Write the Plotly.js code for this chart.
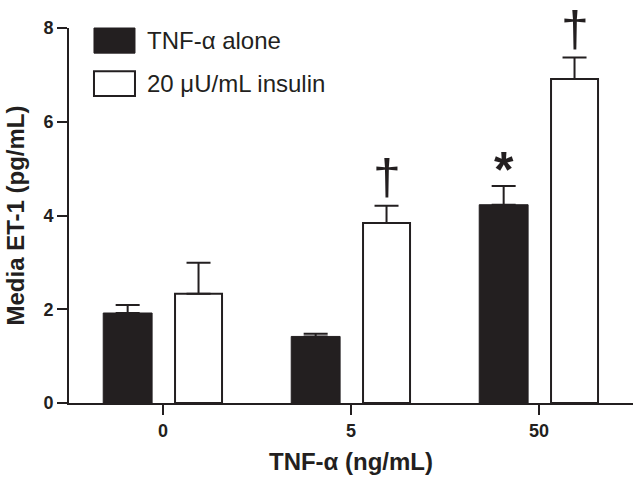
<!DOCTYPE html>
<html>
<head>
<meta charset="utf-8">
<script src="https://cdn.plot.ly/plotly-3.0.1.min.js"></script>
<style>
  html, body { margin: 0; padding: 0; background: #fff; }
  #chart { width: 634px; height: 482px; }
</style>
</head>
<body>
<div id="chart"></div>
<script>
// TNF-α dose groups
const doses = ['0', '5', '50'];

// media ET-1 (pg/mL), mean and SEM
const tnfAlone = [1.92, 1.42, 4.23];
const tnfAloneErr = [0.17, 0.06, 0.40];
const withInsulin = [2.33, 3.84, 6.91];
const withInsulinErr = [0.66, 0.37, 0.46];

// significance marks
const tnfSig = ['', '', '*'];
const insSig = ['', '\u2020', '\u2020'];

const ink = '#231f20';
const font = 'Liberation Sans, Arial, Helvetica, sans-serif';

const traceTnf = {
    type: 'bar',
    x: doses,
    y: tnfAlone,
    name: 'TNF-\u03b1 alone',
    width: 0.26,
    offset: -0.318,
    marker: { color: ink, line: { color: ink, width: 1 } },
    error_y: {
        type: 'data', symmetric: false,
        array: tnfAloneErr, arrayminus: tnfAloneErr.map(() => 0),
        color: ink, thickness: 2, width: 12
    },
    showlegend: false
};

const traceIns = {
    type: 'bar',
    x: doses,
    y: withInsulin,
    name: '20 \u03bcU/mL insulin',
    width: 0.25,
    offset: 0.064,
    marker: { color: '#ffffff', line: { color: ink, width: 2 } },
    error_y: {
        type: 'data', symmetric: false,
        array: withInsulinErr, arrayminus: withInsulinErr.map(() => 0),
        color: ink, thickness: 2, width: 12
    },
    showlegend: false
};

// significance marks above error bars
const annotations = [];
doses.forEach((d, i) => {
    if (tnfSig[i]) {
        annotations.push({
            x: i, xref: 'x', xshift: (-0.318 + 0.13) * 188,
            y: tnfAlone[i] + tnfAloneErr[i], yref: 'y', yshift: 16,
            yanchor: 'middle', xanchor: 'center',
            text: tnfSig[i], showarrow: false,
            font: { family: font, size: 50, color: ink, weight: 'bold' }
        });
    }
    if (insSig[i]) {
        annotations.push({
            x: i, xref: 'x', xshift: (0.064 + 0.125) * 188,
            y: withInsulin[i] + withInsulinErr[i], yref: 'y', yshift: 29,
            yanchor: 'middle', xanchor: 'center',
            text: insSig[i], showarrow: false,
            font: { family: font, size: 50, color: ink }
        });
    }
});

// legend drawn by hand so the swatches can be large
annotations.push({
    x: 0.134, y: 0.967, xref: 'paper', yref: 'paper',
    xanchor: 'left', yanchor: 'middle', showarrow: false,
    text: traceTnf.name, font: { family: font, size: 24, color: ink }
});
annotations.push({
    x: 0.134, y: 0.852, xref: 'paper', yref: 'paper',
    xanchor: 'left', yanchor: 'middle', showarrow: false,
    text: traceIns.name, font: { family: font, size: 24, color: ink }
});

const shapes = [
    { type: 'rect', xref: 'paper', yref: 'paper', x0: 0.0443, x1: 0.117, y0: 0.933, y1: 1.0,
      fillcolor: ink, line: { color: ink, width: 1 } },
    { type: 'rect', xref: 'paper', yref: 'paper', x0: 0.0443, x1: 0.117, y0: 0.819, y1: 0.885,
      fillcolor: '#ffffff', line: { color: ink, width: 2 } }
];

const layout = {
    width: 634,
    height: 482,
    margin: { l: 69, r: 1, t: 28, b: 79 },
    paper_bgcolor: '#ffffff',
    plot_bgcolor: '#ffffff',
    barmode: 'overlay',
    font: { family: font, color: ink },
    xaxis: {
        type: 'category',
        range: [-0.5, 2.5],
        showline: true, linecolor: ink, linewidth: 2,
        ticks: 'outside', ticklen: 10, tickwidth: 2, tickcolor: ink,
        showgrid: false, zeroline: false,
        tickfont: { family: font, size: 18, color: ink, weight: 'bold' },
        title: { text: 'TNF-\u03b1 (ng/mL)', standoff: 14,
                 font: { family: font, size: 24, color: ink, weight: 'bold' } }
    },
    yaxis: {
        range: [0, 8],
        tickvals: [0, 2, 4, 6, 8],
        showline: true, linecolor: ink, linewidth: 2,
        ticks: 'outside', ticklen: 10, tickwidth: 2, tickcolor: ink,
        showgrid: false, zeroline: false,
        tickfont: { family: font, size: 18, color: ink, weight: 'bold' },
        title: { text: 'Media ET-1 (pg/mL)', standoff: 12,
                 font: { family: font, size: 24, color: ink, weight: 'bold' } }
    },
    annotations: annotations,
    shapes: shapes
};

Plotly.newPlot('chart', [traceTnf, traceIns], layout, { displayModeBar: false, staticPlot: true });
</script>
</body>
</html>
